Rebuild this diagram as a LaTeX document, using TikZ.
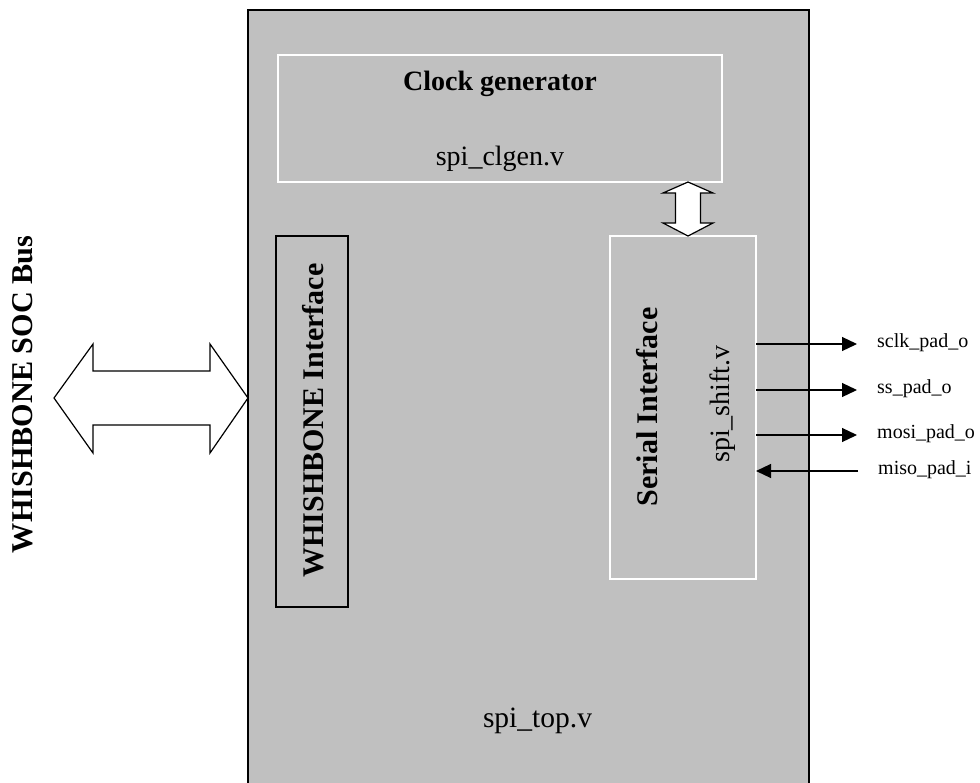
\documentclass[tikz,border=0pt]{standalone}
\usepackage{fontspec}
\setmainfont{Liberation Serif}
\usetikzlibrary{arrows.meta,calc}
\definecolor{boxgray}{HTML}{C0C0C0}
\begin{document}
\begin{tikzpicture}[x=1pt,y=-1pt,
  box/.style={rectangle, inner sep=0pt, outer sep=0pt, anchor=north west},
  whitebox/.style={box, draw=white, line width=1.2pt},
  blackbox/.style={box, draw=black, line width=1.4pt},
  bigtxt/.style={inner sep=0pt, font=\fontsize{28}{30}\selectfont},
  boldtxt/.style={inner sep=0pt, font=\fontsize{28}{30}\selectfont\bfseries},
  lbl/.style={inner sep=0pt, anchor=west, font=\fontsize{20}{22}\selectfont},
  sig/.style={line width=1.2pt, -{Triangle[length=15pt,width=14pt]}},
  blockarrow/.style={draw=black, fill=white, line width=1.2pt, line join=miter}
]
\useasboundingbox (0,0) rectangle (980,782);
\fill[white] (0,0) rectangle (980,782);
\begin{scope}
\clip (0,0) rectangle (980,782);
\node[box, draw=black, fill=boxgray, line width=2.8pt, minimum width=561pt, minimum height=820pt] (topbox) at (248,10) {};
\end{scope}

% inner boxes
\node[whitebox, minimum width=444pt, minimum height=127pt] (clk) at (278,55) {};
\node[whitebox, minimum width=146pt, minimum height=343pt] (ser) at (610,236) {};
\node[blackbox, minimum width=72pt, minimum height=371pt] (wbi) at (276,236) {};

% texts
\node[boldtxt] (clkt) at (500,83.5) {Clock generator};
\node[bigtxt] (clkf) at (500,159) {spi\_clgen.v};
\node[boldtxt, rotate=90, font=\fontsize{30}{32}\selectfont\bfseries] (sert) at (647,407) {Serial Interface};
\node[bigtxt, rotate=90] (serf) at (723,404) {spi\_shift.v};
\node[boldtxt, rotate=90, font=\fontsize{30}{32}\selectfont\bfseries] (wbit) at (313,420.5) {WHISHBONE Interface};
\node[boldtxt, rotate=90, font=\fontsize{30.2}{32}\selectfont\bfseries] (bus) at (22.5,394.5) {WHISHBONE SOC Bus};
\node[bigtxt, font=\fontsize{29.5}{32}\selectfont] (topf) at (537.5,720.5) {spi\_top.v};

% small double block arrow between clock generator and serial interface
\coordinate (ua) at (clk.south -| 688,0);
\coordinate (da) at (ser.north -| 688,0);
\draw[blockarrow] (ua) -- ($(ua)+(25,11)$) -- ($(ua)+(12.5,11)$) -- ($(da)+(12.5,-13)$)
  -- ($(da)+(25,-13)$) -- (da) -- ($(da)+(-25,-13)$) -- ($(da)+(-12.5,-13)$)
  -- ($(ua)+(-12.5,11)$) -- ($(ua)+(-25,11)$) -- cycle;

% big double block arrow (bus)
\coordinate (bl) at (54,398);
\coordinate (br) at (topbox.west |- bl);
\draw[blockarrow] (bl) -- ($(bl)+(39,-54)$) -- ($(bl)+(39,-27)$) -- ($(br)+(-38,-27)$)
  -- ($(br)+(-38,-54)$) -- (br) -- ($(br)+(-38,55)$) -- ($(br)+(-38,27)$)
  -- ($(bl)+(39,27)$) -- ($(bl)+(39,55)$) -- cycle;

% signals
\coordinate (sclkE) at (857,344);
\coordinate (ssE) at (857,390);
\coordinate (mosiE) at (857,435);
\coordinate (misoW) at (858,471);
\draw[sig] (ser.east |- sclkE) -- (sclkE);
\draw[sig] (ser.east |- ssE) -- (ssE);
\draw[sig] (ser.east |- mosiE) -- (mosiE);
\draw[sig] (misoW) -- (ser.east |- misoW);
\node[lbl] (sclk) at (877,343) {sclk\_pad\_o};
\node[lbl] (ss) at (877,389) {ss\_pad\_o};
\node[lbl] (mosi) at (877,434) {mosi\_pad\_o};
\node[lbl] (miso) at (878,470) {miso\_pad\_i};
\end{tikzpicture}
\end{document}
